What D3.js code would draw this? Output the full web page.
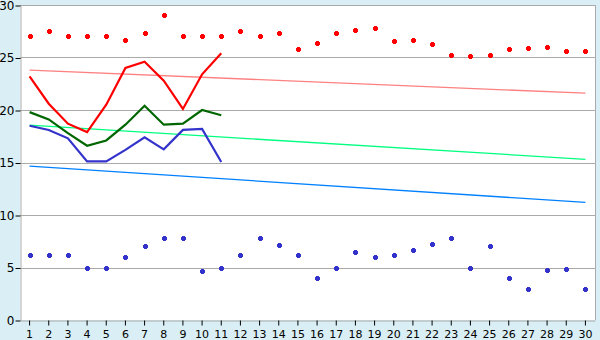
<!DOCTYPE html>
<html>
<head>
<meta charset="utf-8">
<script src="https://cdn.jsdelivr.net/npm/d3@7"></script>
<style>
  body { margin: 0; background: #d9eff5; }
  svg { display: block; }
</style>
</head>
<body>
<svg id="chart"></svg>
<script>
const days = d3.range(1, 31);

// scattered daily values
const highPoints = [27, 27.5, 27, 27, 27, 26.7, 27.3, 29, 27, 27,
                    27, 27.5, 27, 27.3, 25.8, 26.35, 27.3, 27.6, 27.8, 26.6,
                    26.7, 26.25, 25.2, 25.1, 25.2, 25.8, 25.9, 26, 25.6, 25.6];
const lowPoints = [6.2, 6.2, 6.2, 5, 5, 6, 7, 7.8, 7.8, 4.7,
                   5, 6.2, 7.8, 7.1, 6.2, 4, 5, 6.45, 6, 6.2,
                   6.7, 7.2, 7.8, 5, 7, 4, 3, 4.8, 4.9, 3];

// lines for days 1..11
const redLine = [23.2, 20.6, 18.7, 17.9, 20.5, 24, 24.6, 22.8, 20.1, 23.4, 25.4];
const greenLine = [19.8, 19.1, 17.8, 16.6, 17.1, 18.6, 20.4, 18.6, 18.7, 20, 19.5];
const blueLine = [18.5, 18.1, 17.3, 15.1, 15.1, 16.2, 17.4, 16.25, 18.1, 18.2, 15.05];

// trend lines: value at day 1 and day 30
const trendDays = [1, 30];
const trendHigh = [23.8, 21.6];
const trendMid = [18.55, 15.3];
const trendLow = [14.65, 11.2];

const yTicks = [0, 5, 10, 15, 20, 25, 30];

const dims = { width: 600, height: 340, left: 20, right: 595, top: 5, bottom: 320 };

const svg = d3.select("#chart").attr("width", dims.width).attr("height", dims.height);

const x = d3.scaleBand().domain(days).range([dims.left, dims.right]);
const xc = d => x(d) + x.bandwidth() / 2;
const y = d3.scaleLinear().domain([0, 30]).range([dims.bottom, dims.top]);

svg.append("rect")
  .attr("x", dims.left).attr("y", dims.top)
  .attr("width", dims.right - dims.left).attr("height", dims.bottom - dims.top)
  .attr("fill", "#fff");

// grid
svg.append("g")
  .selectAll("line")
  .data(yTicks.filter(t => t > 0))
  .join("line")
    .attr("x1", dims.left).attr("x2", dims.right)
    .attr("y1", d => Math.round(y(d)) + 0.5).attr("y2", d => Math.round(y(d)) + 0.5)
    .attr("stroke", "#aaa").attr("stroke-width", 1);

// right border
svg.append("line")
  .attr("x1", dims.right + 0.5).attr("x2", dims.right + 0.5)
  .attr("y1", dims.top).attr("y2", dims.bottom)
  .attr("stroke", "#aaa");

// y axis
const yAxis = svg.append("g")
  .attr("transform", `translate(${dims.left + 0.5},0.5)`)
  .call(d3.axisLeft(y).tickValues(yTicks).tickSize(5).tickSizeOuter(0));
yAxis.select(".domain").attr("stroke", "#aaa");
yAxis.selectAll(".tick line").attr("stroke", "#000");
yAxis.selectAll("text")
  .attr("font-family", "DejaVu Sans, Verdana, sans-serif")
  .attr("font-size", 12).attr("fill", "#000").attr("x", -6);

// x axis
const xAxis = svg.append("g")
  .attr("transform", `translate(0,${dims.bottom + 0.5})`)
  .call(d3.axisBottom(x).tickSize(5).tickSizeOuter(0));
xAxis.select(".domain").attr("stroke", "#aaa");
xAxis.selectAll(".tick line").attr("stroke", "#000");
xAxis.selectAll("text")
  .attr("font-family", "DejaVu Sans, Verdana, sans-serif")
  .attr("font-size", 11).attr("fill", "#000").attr("dy", "0.9em");

// trend lines
const trendLine = d3.line().x(d => xc(d[0])).y(d => y(d[1]));
[[trendHigh, "#ff8080"], [trendMid, "#00ff80"], [trendLow, "#0080ff"]].forEach(([vals, col]) => {
  svg.append("path")
    .datum(d3.zip(trendDays, vals))
    .attr("d", trendLine)
    .attr("fill", "none").attr("stroke", col).attr("stroke-width", 1.3);
});

// main lines
const line = d3.line().x((d, i) => xc(days[i])).y(d => y(d));
[[blueLine, "#3333cc"], [greenLine, "#006600"], [redLine, "#ff0000"]].forEach(([vals, col]) => {
  svg.append("path")
    .datum(vals)
    .attr("d", line)
    .attr("fill", "none").attr("stroke", col).attr("stroke-width", 2.2)
    .attr("stroke-linejoin", "miter");
});

// point markers (small plus shapes, snapped to pixel centres)
const plus = "M-1.5,-2.5H1.5V-1.5H2.5V1.5H1.5V2.5H-1.5V1.5H-2.5V-1.5H-1.5Z";
const snap = v => Math.round(v) + 0.5;

svg.append("g")
  .attr("shape-rendering", "crispEdges")
  .selectAll("path")
  .data(highPoints)
  .join("path")
    .attr("transform", (d, i) => `translate(${snap(xc(days[i]))},${snap(y(d))})`)
    .attr("d", plus)
    .attr("fill", "#ff0000");

svg.append("g")
  .attr("shape-rendering", "crispEdges")
  .selectAll("path")
  .data(lowPoints)
  .join("path")
    .attr("transform", (d, i) => `translate(${snap(xc(days[i]))},${snap(y(d))})`)
    .attr("d", plus)
    .attr("fill", "#3333cc");
</script>
</body>
</html>
